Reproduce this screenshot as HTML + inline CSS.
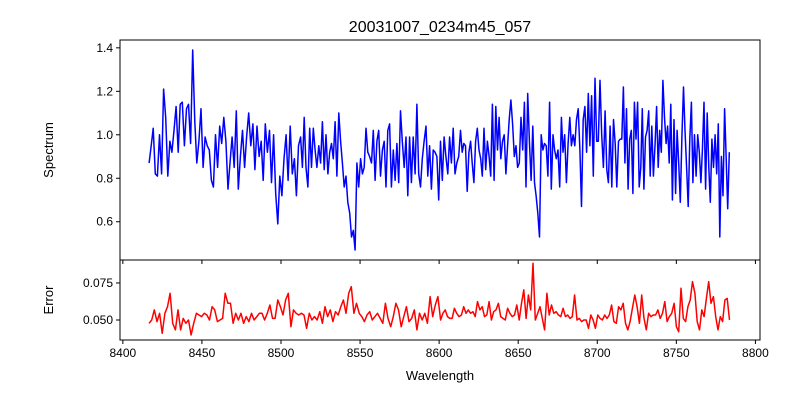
<!DOCTYPE html>
<html><head><meta charset="utf-8"><style>
body{margin:0;background:#fff;}
svg{display:block;font-family:"Liberation Sans","DejaVu Sans",sans-serif;}
</style></head><body>
<svg id="chart" width="800" height="400" viewBox="0 0 800 400">
<rect width="800" height="400" fill="#fff"/>
<text x="440" y="32" font-size="16" text-anchor="middle">20031007_0234m45_057</text>
<text transform="translate(53,150) rotate(-90)" font-size="13" text-anchor="middle">Spectrum</text>
<text transform="translate(53,300) rotate(-90)" font-size="13" text-anchor="middle">Error</text>
<text x="440" y="380" font-size="13" text-anchor="middle">Wavelength</text>
<g id="g"></g>
</svg>
<script>
const xTicks=[8400,8450,8500,8550,8600,8650,8700,8750,8800];
const topTicks=[0.6,0.8,1.0,1.2,1.4];
const botTicks=[0.050,0.075];
const fluxSegStart=[8416.6,8512.4,8613.5,8714.5];
const fluxSegEnd=[8512.4,8613.5,8714.5,8784.5];
const flux1=[.87,.95,1.03,.82,.81,1.0,.82,1.21,1.08,.81,.97,.92,1.02,1.13,.92,1.14,1.15,.95,1.12,1.14,.96,1.39,1.06,.87,.97,1.12,.85,.99,.95,.93,.79,.76,1.0,.85,1.04,.96,1.08,.97,.75,.87,.99,.85,1.11,.75,.9,1.02,.85,.99,1.1,.95,1.05,.84,1.04,.9,.97,.79,1.05,.92,1.02,.78,1.0,.73,.59,.81,.72,.89,1.0,.79,1.04,.82,.89,.72,.95];
const flux2=[.99,.85,1.08,.85,.76,1.03,.85,1.03,.93,.85,.95,.87,1.06,.84,1.0,.82,.92,.96,.89,1.06,.81,1.1,.97,.87,.76,.81,.69,.64,.53,.56,.47,.87,.76,.89,.82,.85,1.03,.92,.9,.87,1.02,.79,.97,1.02,.81,.93,.97,.76,1.02,1.05,.76,.93,.79,.96,.78,1.11,.97,.85,.99,.72,.99,.78,.99,.82,1.14,.82,.76,.89,.97,1.04,.81,.95,.75,.93,.92,.9,.7,.97,.79,.99,.9,.82,.99,.87,1.03,.82,.87,.9];
const flux3=[1.02,.92,.96,.95,.74,.92,.97,.87,.78,.97,1.03,.93,.89,.81,1.03,.84,.97,.9,.81,1.14,.79,1.13,.93,1.08,.89,.97,1.0,.82,.95,1.07,1.16,1.05,.9,.95,.85,.87,1.08,.93,1.15,.76,1.19,.97,.79,1.04,.78,.72,.64,.53,1.0,.93,.96,.95,.81,1.15,.75,1.0,.93,.89,.93,.76,1.08,.92,1.0,.78,.96,1.08,.95,1.0,.95,1.07,1.12,.93,.67,1.07,1.13,.92,1.19,.95,1.18,.81,1.26,.97,.97,1.25,1.0,.85,1.11,.84,.78,1.04,.76,1.07,.96,.76,.97];
const flux4=[.98,.98,1.22,.87,1.12,.75,.98,1.02,.73,1.15,.98,1.15,.76,.85,1.12,.75,.99,1.02,1.11,.81,1.04,.81,.95,1.13,.85,1.02,.92,1.25,1.08,.96,1.04,.87,1.14,.7,1.07,.73,1.02,.87,.69,.99,1.22,1.02,.85,.67,.98,1.15,.78,1.0,.81,1.0,.92,.78,.93,1.15,.75,1.1,.85,.69,.98,.85,1.0,.82,1.05,.53,.9,.72,1.12,.89,.66,.92];
const errSegStart=[8416.6,8600.9];
const errSegEnd=[8600.9,8785.1];
const err1=[.0478,.05,.0568,.0489,.0545,.041,.0545,.059,.068,.0478,.0433,.0568,.0433,.0511,.0478,.05,.0399,.0478,.0545,.0534,.0523,.0545,.0534,.05,.059,.0568,.0489,.05,.0511,.068,.0613,.0613,.0478,.0545,.05,.0545,.0478,.0523,.0489,.0545,.05,.0523,.0545,.0545,.05,.0545,.0601,.0511,.0511,.0635,.059,.0534,.0635,.068,.0455,.0568,.0545,.0534,.0545,.0534,.0444,.0545,.05,.0523,.05,.0556,.0478,.059,.0523,.0568,.0489,.0556,.0534,.059,.0635,.0545,.068,.0725,.0545,.0613,.0545,.0523,.0489,.0534,.0556,.05,.0523,.0545,.0511,.0478,.0613,.0511,.0455,.0523,.0613,.0568,.0455,.0523,.059,.0489,.0511,.0568,.0433,.0545,.05,.0545,.0478,.0658,.0523,.0601,.0658];
const err2=[.05,.0545,.0568,.0523,.0511,.0511,.0579,.0545,.0523,.0534,.059,.0545,.0568,.0545,.0556,.0523,.0624,.0568,.059,.0523,.0534,.0624,.05,.0556,.0568,.0613,.0523,.0511,.05,.0579,.0545,.0523,.0534,.0601,.05,.0613,.0703,.0511,.0669,.0568,.0883,.05,.0545,.059,.0511,.0433,.068,.0534,.0601,.0545,.0556,.0534,.0523,.0579,.0523,.0534,.0511,.0523,.0669,.05,.0511,.0489,.05,.05,.0444,.0534,.05,.0444,.0534,.0511,.05,.0534,.0511,.0534,.0601,.0489,.0478,.059,.0568,.0613,.0478,.0433,.0489,.0579,.0669,.059,.0478,.0669,.0511,.0433,.0545,.0523,.0534,.0534,.0568,.0511,.0545,.0624,.0489,.0523,.0545,.0613,.0455,.0421,.0714,.0511,.0489,.059,.0635,.0759,.068,.0489,.0433,.0568,.0523,.0646,.0759,.0613,.0658,.0523,.0433,.0523,.0489,.0635,.0646,.05];

const NS='http://www.w3.org/2000/svg';
const g=document.getElementById('g');
const L=120,R=760,T1=40,B1=260,T2=260,B2=340;
const X0=8398.2,X1=8802.9;
const Y1lo=0.424,Y1hi=1.436,Y2lo=0.0365,Y2hi=0.0905;
const sx=w=>L+(w-X0)/(X1-X0)*(R-L);
const sy1=v=>T1+(Y1hi-v)/(Y1hi-Y1lo)*(B1-T1);
const sy2=v=>T2+(Y2hi-v)/(Y2hi-Y2lo)*(B2-T2);
function mk(tag,attrs){const e=document.createElementNS(NS,tag);for(const k in attrs)e.setAttribute(k,attrs[k]);g.appendChild(e);return e;}
function segPts(starts,ends,arrs,sy){let p=[];arrs.forEach((a,i)=>{a.forEach((v,j)=>{const w=starts[i]+(ends[i]-starts[i])*j/a.length;p.push(sx(w).toFixed(1)+','+sy(v).toFixed(1));});});return p.join(' ');}
let fl=mk('polyline',{points:segPts(fluxSegStart,fluxSegEnd,[flux1,flux2,flux3,flux4],sy1),fill:'none',stroke:'#0000ff','stroke-width':1.5,'stroke-linejoin':'round'});


let el=mk('polyline',{points:segPts(errSegStart,errSegEnd,[err1,err2],sy2),fill:'none',stroke:'#ff0000','stroke-width':1.5,'stroke-linejoin':'round'});


let f1=mk('rect',{x:L,y:T1,width:R-L,height:B1-T1,fill:'none',stroke:'#000','stroke-width':1});


let f2=mk('rect',{x:L,y:T2,width:R-L,height:B2-T2,fill:'none',stroke:'#000','stroke-width':1});


xTicks.forEach(t=>{const x=sx(t);
 const tk=mk('line',{x1:x,x2:x,y1:B2,y2:B2+4,stroke:'#000'});
 
 
 const tl=mk('text',{x:x,y:B2+17,'font-size':12,'text-anchor':'middle'});tl.textContent=t;
 
 
 const tk2=mk('line',{x1:x,x2:x,y1:B1,y2:B1+4,stroke:'#000'});
 
 
});
topTicks.forEach(t=>{const y=sy1(t);
 const tk=mk('line',{x1:L-4,x2:L,y1:y,y2:y,stroke:'#000'});
 
 
 const tl=mk('text',{x:L-7,y:y+4,'font-size':12,'text-anchor':'end'});tl.textContent=t.toFixed(1);
 
 
});
botTicks.forEach(t=>{const y=sy2(t);
 const tk=mk('line',{x1:L-4,x2:L,y1:y,y2:y,stroke:'#000'});
 
 
 const tl=mk('text',{x:L-7,y:y+4,'font-size':12,'text-anchor':'end'});tl.textContent=t.toFixed(3);
 
 
});
</script>
</body></html>
